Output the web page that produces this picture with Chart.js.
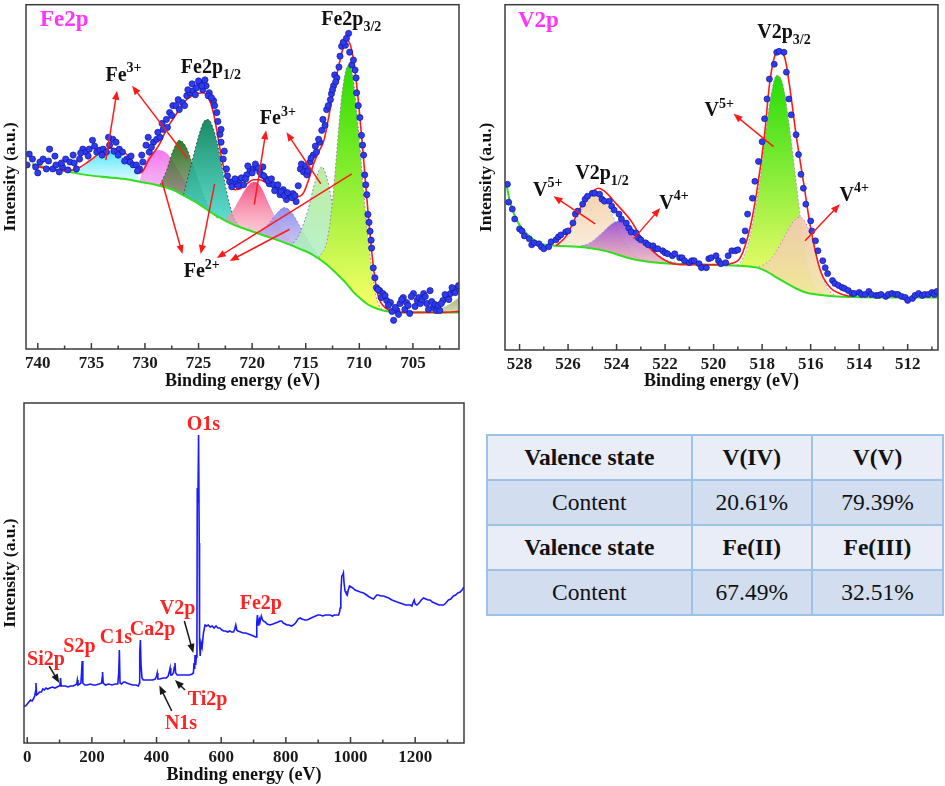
<!DOCTYPE html>
<html>
<head>
<meta charset="utf-8">
<script src="https://cdn.jsdelivr.net/npm/chart.js@4.4.1/dist/chart.umd.min.js"></script>
<style>
  body { margin: 0; background: #fff; }
  #wrap { position: relative; width: 945px; height: 786px; background: #fff; overflow: hidden; }
  canvas { position: absolute; }
  #tbl { position: absolute; left: 486px; top: 434px; width: 458px; height: 180px; border-collapse: collapse;
         font-family: "Liberation Serif", "Times New Roman", serif; font-size: 23.5px; color: #111; }
  #tbl td { border: 2px solid #9cc2e8; text-align: center; padding: 0; height: 43px; }
  #tbl tr.head td { background: #e9edf7; font-weight: bold; }
  #tbl tr.body td { background: #d2ddef; }
</style>
</head>
<body>
<div id="wrap">
  <canvas id="feChart" width="470" height="392" style="left:0;top:0"></canvas>
  <canvas id="vChart" width="475" height="392" style="left:470px;top:0"></canvas>
  <canvas id="surveyChart" width="470" height="391" style="left:0;top:395px"></canvas>
  <table id="tbl"></table>
</div>
<script>
// ---- Fe 2p high resolution spectrum (binding energy eV, intensity a.u.) ----
const feDots = [
  [740.8,197],[740.5,192],[740.2,184],[739.8,189],[739.5,192],[739.2,182],[738.9,202],[738.6,182],[738.3,186],[738.0,179],
  [737.7,184],[737.4,192],[737.0,189],[736.7,196],[736.4,182],[736.1,192],[735.8,202],[735.5,199],[735.2,202],[734.9,211],
  [734.5,199],[734.2,201],[733.9,202],[733.6,199],[733.3,206],[733.0,212],[732.7,209],[732.4,202],[732.1,199],[731.7,192],
  [731.4,189],[731.1,186],[730.8,186],[730.5,182],[730.2,189],[729.9,206],[729.6,199],[729.2,209],[728.9,212],[728.6,214],
  [728.3,222],[728.0,232],[727.7,239],[727.4,246],[727.1,246],[726.8,242],[726.5,249],[726.1,256],[725.8,259],[725.5,261],
  [725.2,264],[724.9,269],[724.6,262],[724.3,266],[724.0,259],[723.6,251],[723.3,239],[723.0,217],[722.9,209],[722.7,192],
  [722.4,182],[722.1,169],[721.8,169],[721.5,167],[721.2,171],[720.8,166],[720.5,176],[720.2,181],[719.9,182],[719.6,184],
  [719.3,179],[719.0,184],[718.7,172],[718.4,167],[718.0,166],[717.7,162],[717.4,156],[717.1,161],[716.8,151],[716.5,156],
  [716.2,157],[715.9,149],[715.5,182],[715.2,179],[714.9,176],[714.6,189],[714.3,196],[714.0,199],[713.7,209],[713.5,221],
  [713.4,232],[713.05,242],[712.7,252],[712.4,266],[712.3,277],[712.1,274],[711.8,296],[711.65,306],[711.3,307],[711.0,319],
  [710.7,287],[710.4,282],[710.25,259],[710.1,246],[709.8,216],[709.6,196],[709.5,176],[709.3,156],[709.2,136],[709.0,119],
  [708.85,102],[708.7,82],[708.4,62],[708.1,59],[707.8,56],[707.45,49],[707.1,47],[706.8,29],[706.5,39],[706.2,46],
  [705.9,52],[705.6,47],[705.3,36],[704.95,56],[704.6,49],[704.3,46],[704.0,56],[703.7,46],[703.4,59],[703.1,42],
  [702.8,39],[702.5,39],[702.2,49],[701.8,52],[701.5,56],[701.2,59],[700.9,61],
  [741.0,186],[740.0,178],[739.0,190],[738.4,195],[737.8,188],[737.2,181],[736.6,188],[736.0,198],[735.3,195],[734.7,205],
  [734.0,196],[733.4,214],[732.9,200],[732.5,196],[731.9,190],[731.3,195],[730.7,180],[730.3,196],[729.7,214],[729.4,204],
  [728.8,219],[728.4,228],[727.9,224],[727.5,236],[726.9,252],[726.3,246],[726.0,262],[725.6,268],[725.3,257],[725.0,271],
  [724.7,266],[724.4,272],[724.1,256],[723.8,254],[723.5,246],[723.2,230],[722.9,222],[722.6,200],[722.3,175],[721.9,164],
  [721.6,172],[721.3,165],[721.0,173],[720.6,172],[720.4,185],[720.0,178],[719.7,187],[719.4,183],[719.1,176],[718.9,175],
  [718.5,170],[718.2,172],[717.9,160],[717.6,166],[717.3,159],[717.0,155],[716.7,158],[716.3,153],[716.0,155],[715.7,165],
  [715.4,187],[715.0,185],[714.8,180],[714.5,193],[714.1,205],[713.8,212],[713.2,226],[712.9,246],[712.6,258],[712.5,262],
  [712.2,270],[711.9,285],[711.5,310],[711.2,314],[710.9,300],[710.55,292],[710.3,274],[709.95,234],[709.7,206],[709.4,166],
  [709.1,128],[708.9,110],[708.55,72],[708.25,60],[707.95,52],[707.6,54],[707.3,44],[706.95,38],[706.65,42],[706.35,35],
  [706.05,50],[705.75,40],[705.45,44],[705.15,53],[704.8,43],[704.45,52],[704.15,50],[703.85,53],[703.55,40],[703.25,48],
  [702.95,45],[702.65,44],[702.35,46],[702.0,55],[701.65,50],[701.35,62],[701.05,57],[700.75,64]
];
const feFit = [
  [740.5,186],[739.0,182],[737.4,180],[736.2,183],[735.2,190],[734.2,198],[733.3,203],[732.5,201],[731.5,195],[730.9,185],
  [730.4,178],[729.6,192],[728.7,206],[727.9,224],[727.1,237],[726.4,249],[725.6,256],[724.6,259],[724.0,252],[723.6,238],
  [723.2,215],[722.8,190],[722.4,174],[722.1,166],[721.6,161],[721.1,162],[720.5,167],[719.9,171],[719.3,171],[718.7,168],
  [718.0,163],[717.1,159],[716.3,155],[715.7,154],[715.2,158],[714.7,172],[714.3,186],[713.8,199],[713.3,211],[712.9,232],
  [712.4,262],[711.8,292],[711.5,305],[711.2,312],[710.9,309],[710.6,296],[710.3,272],[710.0,240],[709.7,205],[709.4,165],
  [709.1,128],[708.8,94],[708.5,68],[708.2,52],[707.8,44],[707.2,39],[706.5,37],[704.0,37],[702.0,37],[700.7,38]
];
const feBackground = [
  [740.5,187],[739.0,183],[737.5,180],[736.1,177],[734.0,174],[732.0,172],[730.5,169],[729.0,166],[727.4,161],[726.2,154],
  [724.9,146],[723.4,135],[721.8,126],[720.3,120],[718.7,114],[717.1,108],[715.5,101],[714.3,95],[713.1,86],[712.2,77],
  [711.2,66],[710.5,57],[709.9,51],[709.2,45],[708.4,41],[707.3,38],[706.2,37],[703.5,37],[700.7,37]
];
// fitted components, Fe2p3/2 main line first
const fePeak711 = [[713.8,92],[713.0,110],[712.5,150],[712.1,200],[711.7,250],[711.3,280],[711.0,287],[710.6,275],[710.2,235],[709.8,185],[709.4,135],[709.0,95],[708.6,62],[708.2,45],[707.6,38]];
const fePeak713 = [[716.4,104],[715.6,116],[714.8,140],[714.1,170],[713.5,184],[713.0,172],[712.4,140],[711.7,105],[711.0,78],[710.2,58],[709.4,46]];
const fePeak717 = [[719.4,117],[718.6,125],[717.8,136],[717.0,143],[716.3,138],[715.6,125],[714.8,110],[714.0,97],[713.3,88]];
const fePeak720 = [[722.6,130],[721.8,140],[721.0,155],[720.3,166],[719.75,169],[719.2,164],[718.5,148],[717.7,130],[716.8,115],[716.0,106]];
const fePeak724 = [[726.4,156],[725.6,190],[725.0,215],[724.5,230],[724.1,232],[723.6,222],[723.0,195],[722.4,160],[721.8,135],[721.2,124]];
const fePeak726 = [[728.6,166],[728.0,180],[727.4,200],[726.8,211],[726.2,205],[725.5,185],[724.7,160],[723.9,140],[723.2,132]];
const fePeak728 = [[730.5,170],[729.9,190],[729.3,199],[728.6,201],[727.9,197],[727.1,185],[726.2,168],[725.3,153],[724.3,143],[723.3,135]];
const fePeak733 = [[736.6,177],[735.8,184],[735.0,191],[734.2,196],[733.3,199],[732.5,197],[731.7,190],[731.0,180],[730.4,170]];
const feSatellite = [[704.0,37],[703.0,39],[702.0,43],[701.2,48],[700.7,52]];

// ---- V 2p high resolution spectrum ----
const vDots = [
  [528.5,167],[528.45,149],[528.3,142],[528.2,132],[528.0,122],[527.9,120],[527.8,115],[527.6,112],[527.5,106],[527.4,108],
  [527.2,107],[527.1,104],[527.0,102],[526.8,104],[526.7,109],[526.5,111],[526.4,114],[526.3,116],[526.1,119],[526.0,120],
  [525.8,128],[525.7,137],[525.6,140],[525.4,147],[525.3,152],[525.2,155],[525.0,158],[524.9,158],[524.7,157],[524.6,152],
  [524.5,150],[524.3,150],[524.2,145],[524.1,141],[523.9,137],[523.8,132],[523.6,128],[523.5,123],[523.4,119],[523.2,118],
  [523.1,113],[523.0,111],[522.8,108],[522.7,106],[522.5,105],[522.4,102],[522.3,102],[522.1,100],[522.0,98],[521.9,97],
  [521.7,95],[521.6,97],[521.4,93],[521.3,93],[521.2,90],[521.0,88],[520.9,90],[520.8,90],[520.6,87],[520.5,83],
  [520.3,83],[520.2,92],[520.1,93],[519.9,95],[519.8,90],[519.7,87],[519.5,88],[519.4,95],[519.25,100],[519.1,100],
  [519.0,101],[518.8,110],[518.7,120],[518.6,137],[518.4,153],[518.3,170],[518.15,190],[518.0,210],[517.9,233],[517.8,253],
  [517.7,273],[517.5,288],[517.4,300],[517.3,301],[517.1,300],[517.0,280],[516.9,253],[516.8,237],[516.6,217],[516.5,197],
  [516.4,177],[516.3,163],[516.2,147],[516.0,130],[515.95,120],[515.8,110],[515.7,100],[515.5,90],[515.4,83],[515.3,77],
  [515.1,70],[515.0,67],[514.85,65],[514.7,63],[514.6,62],[514.45,60],[514.3,57],[514.2,57],[514.0,58],[513.9,56],
  [513.75,56],[513.6,59],[513.5,56],[513.3,55],[513.2,55],[513.1,56],[512.9,54],[512.8,56],[512.65,57],[512.5,56],
  [512.4,56],[512.25,54],[512.1,53],[512.0,50],[511.8,52],[511.7,55],[511.55,57],[511.4,55],[511.3,56],[511.15,56],
  [511.0,58],[510.9,56],[510.8,59]
];
const vFit = [
  [526.5,105],[526.1,114],[525.9,123],[525.5,143],[525.1,157],[524.75,163],[524.5,160],[524.0,147],[523.4,130],[522.9,110],
  [522.3,95],[521.8,88],[521.2,86],[520.4,86],[519.6,86],[519.3,87],[518.9,93],[518.5,123],[518.2,163],[517.9,217],
  [517.7,267],[517.45,298],[517.25,301],[517.05,293],[516.85,263],[516.6,217],[516.3,170],[516.0,123],[515.6,80],[515.2,63],
  [514.8,57],[514.4,54]
];
const vBackground = [
  [528.55,168],[528.4,150],[528.1,130],[527.7,117],[527.1,107],[526.5,105],[525.6,104],[524.5,100],[523.4,92],[522.3,88],
  [520.4,86],[519.0,85],[518.2,83],[517.8,79],[517.4,73],[516.6,62],[516.2,58],[515.75,56],[514.9,54],[512.5,53],[510.75,53]
];
const vPeakV5_32 = [[519.2,85],[518.9,88],[518.6,105],[518.35,133],[518.1,170],[517.9,210],[517.65,255],[517.4,277],[517.15,268],[516.9,230],[516.6,170],[516.35,120],[516.1,82],[515.8,62],[515.5,57]];
const vPeakV4_32 = [[518.3,83],[517.8,88],[517.4,100],[517.0,118],[516.7,130],[516.45,134],[516.2,128],[515.9,108],[515.6,82],[515.3,62],[515.0,55]];
const vPeakV4_12 = [[525.6,104],[525.1,108],[524.6,118],[524.2,127],[523.9,130],[523.5,126],[523.0,115],[522.5,101],[522.0,91],[521.5,88]];
const vPeakV5_12 = [[526.5,105],[526.1,115],[525.7,130],[525.3,148],[524.9,159],[524.5,152],[524.1,132],[523.7,110],[523.3,96],[522.8,90]];

// ---- survey spectrum ----
const survey = [
  [-10,37],[-5,37],[0,39],[5,41],[10,43],[15,42],[19,44],[23,47],[26,52],[27,60],[29,48],[33,49],[38,51],[44,51],[48,54],
  [53,53],[58,55],[63,54],[70,55],[78,56],[86,55],[92,56],[98,57],[101,57],[103,65],[105,57],[110,57],[118,57],[126,56],
  [134,57],[142,57],[148,58],[153,59],[155,63],[157,58],[162,59],[166,60],[168,70],[170,82],[172,60],[178,58],[186,58],
  [195,59],[204,58],[212,58],[222,59],[230,60],[232,66],[233,71],[235,60],[242,58],[252,59],[262,58],[272,59],[280,59],
  [283,70],[285,93],[287,60],[292,59],[298,61],[302,61],[308,60],[316,59],[326,58],[336,58],[344,57],[347,60],[348,90],
  [350,103],[352,78],[355,65],[359,63],[368,63],[378,63],[388,63],[396,64],[400,67],[402,70],[404,64],[410,64],[420,65],
  [430,65],[436,67],[440,72],[442,75],[444,68],[448,68],[452,70],[455,76],[457,80],[459,70],[464,68],[472,68],[482,68],
  [492,68],[502,68],[510,69],[514,70],[516,80],[518,74],[519,88],[521,78],[523,86],[525,110],[526,255],[528,240],[530,308],
  [531,308],[532,200],[533,100],[535,87],[538,100],[541,96],[545,110],[550,118],[555,117],[560,118],[566,116],[572,117],
  [578,115],[584,117],[590,115],[596,115],[602,113],[608,112],[614,112],[620,111],[626,112],[632,111],[638,111],[642,114],
  [645,118],[648,113],[652,112],[660,111],[668,110],[676,110],[684,109],[692,108],[700,107],[706,106],[708,106],[710,120],
  [712,128],[714,118],[716,122],[718,124],[720,121],[724,127],[727,124],[730,122],[736,121],[742,119],[751,118],[760,119],
  [768,120],[776,121],[782,122],[787,122],[792,120],[798,119],[803,118],[810,118],[817,117],[823,118],[830,120],[838,124],
  [844,125],[850,124],[858,123],[865,123],[872,124],[878,125],[885,126],[892,127],[899,128],[906,128],[914,127],[922,128],
  [930,128],[937,128],[944,127],[950,128],[957,128],[963,128],[966,131],[968,135],[970,150],[973,167],[976,168],[978,170],
  [980,160],[983,152],[986,150],[990,148],[993,153],[997,157],[1002,156],[1007,155],[1014,153],[1022,152],[1030,151],
  [1040,150],[1050,148],[1058,146],[1064,145],[1071,144],[1076,146],[1081,148],[1086,148],[1094,147],[1102,147],[1110,146],
  [1118,145],[1128,143],[1136,142],[1144,141],[1153,140],[1162,139],[1170,138],[1179,138],[1185,138],[1190,137],[1194,141],
  [1197,143],[1200,139],[1205,138],[1212,140],[1219,143],[1226,145],[1233,144],[1240,143],[1246,143],[1253,141],[1260,140],
  [1267,139],[1274,138],[1281,138],[1288,138],[1295,140],[1300,142],[1303,143],[1310,144],[1318,147],[1325,148],[1332,150],
  [1339,151],[1345,153],[1351,156]
];

// ---- valence table ----
const tableHead1 = ['Valence state', 'V(IV)', 'V(V)'];
const tableRow1 = ['Content', '20.61%', '79.39%'];
const tableHead2 = ['Valence state', 'Fe(II)', 'Fe(III)'];
const tableRow2 = ['Content', '67.49%', '32.51%'];

// ---- annotations (data coordinates) ----
const feLabels = [
  ['Fe2p_{3/2}', 710.75, 334], ['Fe2p_{1/2}', 723.85, 286], ['Fe^{3+}', 732.0, 278],
  ['Fe^{3+}', 717.6, 234], ['Fe^{2+}', 724.7, 79]
];
const feArrows = [
  [733.65,191,732.6,261], [726.0,192,731.2,266], [719.8,146,718.7,221], [713.6,167,716.8,219],
  [728.4,169,726.5,96], [723.5,167,724.8,96], [710.7,177,723.3,92], [716.5,121,722.1,89]
];
const vLabels = [
  ['V2p_{3/2}', 517.1, 321], ['V2p_{1/2}', 524.6, 179], ['V^{5+}', 526.84, 162],
  ['V^{4+}', 521.63, 149], ['V^{5+}', 519.77, 242], ['V^{4+}', 514.2, 157]
];
const vArrows = [
  [524.88,127,526.6,155], [523.3,112,522.2,143], [517.53,205,519.18,238], [516.23,110,514.8,147]
];
const surveyLabels = [
  ['O1s', 544.7, 320], ['Fe2p', 722.4, 141], ['V2p', 464.9, 136], ['Ca2p', 387.5, 115], ['C1s', 274.5, 107],
  ['S2p', 161.6, 98], ['Si2p', 57.9, 85], ['Ti2p', 557.7, 45], ['N1s', 475.7, 21]
];
const surveyArrows = [
  [68,77,99,60], [486,122,513.8,90], [488,53,457,63], [447,32,408.6,57.6]
];

const FONT = '"Liberation Serif", "Times New Roman", serif';

const richParts = (text) => {
  const parts = [];
  const re = /([_^])\{([^}]*)\}/g;
  let last = 0, m;
  while ((m = re.exec(text))) {
    if (m.index > last) parts.push({ t: text.slice(last, m.index), k: '' });
    parts.push({ t: m[2], k: m[1] });
    last = re.lastIndex;
  }
  if (last < text.length) parts.push({ t: text.slice(last), k: '' });
  return parts;
};

const drawRich = (ctx, text, cx, cy, size, color) => {
  const parts = richParts(text);
  const small = Math.round(size * 0.7);
  let w = 0;
  parts.forEach(p => {
    ctx.font = 'bold ' + (p.k ? small : size) + 'px ' + FONT;
    p.w = ctx.measureText(p.t).width;
    w += p.w;
  });
  let x = cx - w / 2;
  const base = cy + size * 0.33;
  ctx.fillStyle = color;
  ctx.textAlign = 'left';
  ctx.textBaseline = 'alphabetic';
  parts.forEach(p => {
    ctx.font = 'bold ' + (p.k ? small : size) + 'px ' + FONT;
    const dy = p.k === '_' ? size * 0.3 : (p.k === '^' ? -size * 0.42 : 0);
    ctx.fillText(p.t, x, base + dy);
    x += p.w;
  });
};

const drawArrow = (ctx, x1, y1, x2, y2, color) => {
  const ang = Math.atan2(y2 - y1, x2 - x1);
  const head = 9, half = 3.6;
  const c = Math.cos(ang), s = Math.sin(ang);
  ctx.strokeStyle = color;
  ctx.fillStyle = color;
  ctx.lineWidth = 1.5;
  ctx.beginPath();
  ctx.moveTo(x1, y1);
  ctx.lineTo(x2 - head * 0.7 * c, y2 - head * 0.7 * s);
  ctx.stroke();
  ctx.beginPath();
  ctx.moveTo(x2, y2);
  ctx.lineTo(x2 - head * c + half * s, y2 - head * s - half * c);
  ctx.lineTo(x2 - head * c - half * s, y2 - head * s + half * c);
  ctx.closePath();
  ctx.fill();
};

// frame box + inward major/minor ticks
const framePlugin = {
  id: 'frame',
  afterDatasetsDraw(chart, args, opts) {
    const { ctx, chartArea: a, scales: { x } } = chart;
    ctx.save();
    ctx.strokeStyle = '#3c3c3c';
    ctx.lineWidth = 1.5;
    ctx.strokeRect(a.left, a.top, a.right - a.left, a.bottom - a.top);
    const lo = Math.min(x.min, x.max), hi = Math.max(x.min, x.max);
    const first = Math.ceil(lo / opts.minor);
    for (let i = first; i * opts.minor <= hi; i++) {
      const v = i * opts.minor;
      const major = Math.abs(v / opts.major - Math.round(v / opts.major)) < 1e-6;
      const px = x.getPixelForValue(v);
      ctx.beginPath();
      ctx.moveTo(px, a.bottom);
      ctx.lineTo(px, a.bottom - (major ? 6 : 3.5));
      ctx.stroke();
    }
    ctx.restore();
  }
};

const notesPlugin = {
  id: 'notes',
  afterDatasetsDraw(chart, args, opts) {
    const { ctx, chartArea: a, scales: { x, y } } = chart;
    ctx.save();
    (opts.arrows || []).forEach(r => drawArrow(ctx,
      x.getPixelForValue(r[0]), y.getPixelForValue(r[1]),
      x.getPixelForValue(r[2]), y.getPixelForValue(r[3]), opts.arrowColor));
    (opts.labels || []).forEach(l => drawRich(ctx, l[0],
      x.getPixelForValue(l[1]), y.getPixelForValue(l[2]), opts.size, opts.color));
    if (opts.title) {
      ctx.font = 'bold 23px ' + FONT;
      ctx.fillStyle = '#ff33ff';
      ctx.textAlign = 'left';
      ctx.textBaseline = 'middle';
      ctx.fillText(opts.title, a.left + opts.titleDx, a.top + opts.titleDy);
    }
    ctx.restore();
  }
};

const pts = (arr) => arr.map(p => ({ x: p[0], y: p[1] }));

const gradient = (arr, top, bottom) => (c) => {
  const chart = c.chart;
  if (!chart.chartArea) return top;
  const ys = arr.map(p => p[1]);
  const y0 = chart.scales.y.getPixelForValue(Math.max(...ys));
  const y1 = chart.scales.y.getPixelForValue(Math.min(...ys));
  const g = chart.ctx.createLinearGradient(0, y0, 0, y1);
  g.addColorStop(0, top);
  g.addColorStop(1, bottom);
  return g;
};

const peakSet = (arr, top, bottom, edge) => ({
  data: pts(arr),
  backgroundColor: gradient(arr, top, bottom),
  borderColor: edge,
  borderWidth: 1,
  borderDash: [1.5, 2.5],
  pointRadius: 0,
  cubicInterpolationMode: 'monotone',
  fill: { target: 2 }
});

const baseSets = (dots, fit, bg, dotRadius) => [
  { data: pts(dots), showLine: false, pointRadius: dotRadius, pointBackgroundColor: '#2e3cf0',
    pointBorderColor: '#16169a', pointBorderWidth: 0.7, fill: false },
  { data: pts(fit), borderColor: '#ff1a1a', borderWidth: 1.6, pointRadius: 0,
    cubicInterpolationMode: 'monotone', fill: false },
  { data: pts(bg), borderColor: '#33dd22', borderWidth: 2, pointRadius: 0,
    cubicInterpolationMode: 'monotone', fill: false }
];

const axisFont = (size) => ({ family: FONT, weight: 'bold', size: size });

// ticks only on whole multiples of the major step
const majorTicks = (step) => (scale) => {
  const lo = Math.min(scale.min, scale.max), hi = Math.max(scale.min, scale.max);
  const ticks = [];
  for (let i = Math.ceil(lo / step); i * step <= hi; i++) ticks.push({ value: i * step });
  scale.ticks = ticks;
};

const makeOptions = (cfg) => ({
  responsive: false,
  animation: false,
  events: [],
  layout: { padding: cfg.padding },
  plugins: {
    legend: { display: false },
    tooltip: { enabled: false },
    frame: { major: cfg.major, minor: cfg.minor },
    notes: cfg.notes
  },
  scales: {
    x: {
      type: 'linear',
      reverse: cfg.reverse,
      min: cfg.xMin,
      max: cfg.xMax,
      grid: { display: false, drawTicks: false },
      border: { display: false },
      afterBuildTicks: majorTicks(cfg.major),
      ticks: { autoSkip: false, maxRotation: 0, padding: 4, color: '#1a1a1a', font: axisFont(17),
               callback: v => String(v) },
      title: { display: true, text: 'Binding energy (eV)', color: '#111', font: axisFont(18),
               padding: { top: 0, bottom: 0 } },
      afterFit: s => { s.height = cfg.xHeight; }
    },
    y: {
      min: 0,
      max: cfg.yMax,
      grid: { display: false, drawTicks: false },
      border: { display: false },
      ticks: { display: false },
      title: { display: true, text: 'Intensity (a.u.)', color: '#111', font: axisFont(17.5),
               padding: { top: cfg.yTitlePad, bottom: 0 } },
      afterFit: s => { s.width = cfg.yWidth; }
    }
  }
});

// Fe 2p
new Chart(document.getElementById('feChart'), {
  type: 'line',
  data: {
    datasets: baseSets(feDots, feFit, feBackground, 3.1).concat([
      peakSet(feSatellite, 'rgba(140,160,70,0.75)', 'rgba(160,175,110,0.5)', 'rgba(0,0,0,0)'),
      peakSet(fePeak711, '#2ade00', '#fcff6a', 'rgba(190,60,230,0.8)'),
      peakSet(fePeak713, 'rgba(185,236,150,0.95)', 'rgba(165,240,215,0.75)', 'rgba(60,60,220,0.7)'),
      peakSet(fePeak717, 'rgba(138,140,240,0.95)', 'rgba(205,190,230,0.6)', 'rgba(190,60,230,0.7)'),
      peakSet(fePeak720, 'rgba(242,70,125,0.95)', 'rgba(250,195,200,0.55)', 'rgba(0,0,0,0)'),
      peakSet(fePeak724, 'rgba(18,135,95,0.97)', 'rgba(70,220,205,0.85)', 'rgba(20,20,20,0.7)'),
      peakSet(fePeak726, 'rgba(35,120,30,0.97)', 'rgba(150,125,110,0.6)', 'rgba(20,20,20,0.7)'),
      peakSet(fePeak728, 'rgba(244,110,240,0.95)', 'rgba(240,190,235,0.55)', 'rgba(0,0,0,0)'),
      peakSet(fePeak733, 'rgba(70,228,255,0.95)', 'rgba(190,248,255,0.6)', 'rgba(0,0,0,0)')
    ])
  },
  options: makeOptions({
    padding: { left: 0, right: 11, top: 1, bottom: 0 },
    reverse: true, xMin: 700.7, xMax: 741.1, major: 5, minor: 2.5, yMax: 348,
    xHeight: 43, yWidth: 26, yTitlePad: 0,
    notes: { labels: feLabels, arrows: feArrows, size: 20, color: '#111', arrowColor: '#ff1a1a',
             title: 'Fe2p', titleDx: 14, titleDy: 15 }
  }),
  plugins: [framePlugin, notesPlugin]
});

// V 2p
new Chart(document.getElementById('vChart'), {
  type: 'line',
  data: {
    datasets: baseSets(vDots, vFit, vBackground, 3).concat([
      peakSet(vPeakV4_32, 'rgba(242,200,176,0.95)', 'rgba(240,228,160,0.85)', 'rgba(210,90,230,0.8)'),
      peakSet(vPeakV5_32, '#26dc08', '#fbff72', 'rgba(210,90,230,0.8)'),
      peakSet(vPeakV4_12, 'rgba(155,80,215,0.95)', 'rgba(232,160,175,0.7)', 'rgba(60,160,255,0.8)'),
      peakSet(vPeakV5_12, 'rgba(244,206,168,0.95)', 'rgba(250,236,218,0.7)', 'rgba(60,160,255,0.8)')
    ])
  },
  options: makeOptions({
    padding: { left: 0, right: 7, top: 2, bottom: 0 },
    reverse: true, xMin: 510.75, xMax: 528.6, major: 2, minor: 1, yMax: 348,
    xHeight: 42, yWidth: 35, yTitlePad: 6,
    notes: { labels: vLabels, arrows: vArrows, size: 20, color: '#111', arrowColor: '#ff1a1a',
             title: 'V2p', titleDx: 13, titleDy: 16 }
  }),
  plugins: [framePlugin, notesPlugin]
});

// survey
new Chart(document.getElementById('surveyChart'), {
  type: 'line',
  data: {
    datasets: [{
      data: pts(survey), borderColor: '#1a1aff', borderWidth: 1.6, pointRadius: 0, fill: false
    }]
  },
  options: makeOptions({
    padding: { left: 0, right: 6, top: 8, bottom: 0 },
    reverse: false, xMin: -10, xMax: 1351, major: 200, minor: 100, yMax: 340,
    xHeight: 43, yWidth: 24, yTitlePad: 0,
    notes: { labels: surveyLabels, arrows: surveyArrows, size: 20, color: '#ff2222', arrowColor: '#1a1a1a' }
  }),
  plugins: [framePlugin, notesPlugin]
});

// table
const tbl = document.getElementById('tbl');
[[tableHead1, 'head'], [tableRow1, 'body'], [tableHead2, 'head'], [tableRow2, 'body']].forEach(([row, cls]) => {
  const tr = document.createElement('tr');
  tr.className = cls;
  row.forEach((txt, i) => {
    const td = document.createElement('td');
    td.textContent = txt;
    td.style.width = ['207px', '120px', '131px'][i];
    tr.appendChild(td);
  });
  tbl.appendChild(tr);
});
</script>
</body>
</html>
